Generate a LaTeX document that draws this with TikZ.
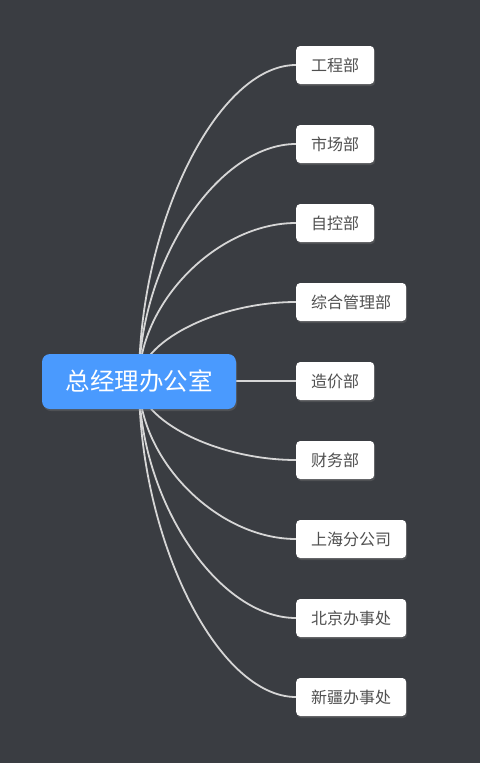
\documentclass[tikz,border=0pt]{standalone}
\usepackage{fontspec}
\setmainfont{Noto Sans CJK SC}
\usetikzlibrary{calc,shadows,backgrounds}
\definecolor{bgc}{HTML}{3A3D42}
\definecolor{rootblue}{HTML}{4A9AFE}
\definecolor{linec}{HTML}{D6D6D6}
\definecolor{txtc}{HTML}{505050}
\pgfdeclarelayer{bottom}
\pgfsetlayers{bottom,background,main}
\begin{document}
\begin{tikzpicture}[x=1pt,y=1pt,
  rootbox/.style={fill=rootblue, rounded corners=8pt, text=white,
    font=\fontsize{24.5}{24.5}\selectfont, minimum width=194pt, minimum height=55pt,
    inner sep=0pt, drop shadow={shadow xshift=1pt,shadow yshift=-2pt,opacity=0.3}},
  childbox/.style={fill=white, rounded corners=4pt, text=txtc,
    font=\fontsize{16}{16}\selectfont, minimum height=38pt,
    inner xsep=15pt, inner ysep=0pt, anchor=west,
    drop shadow={shadow xshift=1pt,shadow yshift=-2pt,opacity=0.3}},
  conn/.style={draw=linec, line width=1.8pt}]
\begin{pgfonlayer}{bottom}
  \fill[bgc] (0,0) rectangle (480,-763);
\end{pgfonlayer}
\useasboundingbox (0,0) rectangle (480,-763);

\node[rootbox] (root) at (139,-381.5) {总经理办公室};

\node[childbox] (c1) at (296,-65)  {工程部};
\node[childbox] (c2) at (296,-144) {市场部};
\node[childbox] (c3) at (296,-223) {自控部};
\node[childbox] (c4) at (296,-302) {综合管理部};
\node[childbox] (c5) at (296,-381) {造价部};
\node[childbox] (c6) at (296,-460) {财务部};
\node[childbox] (c7) at (296,-539) {上海分公司};
\node[childbox] (c8) at (296,-618) {北京办事处};
\node[childbox] (c9) at (296,-697) {新疆办事处};

\begin{pgfonlayer}{background}
\foreach \c in {c1,c2,c3,c4,c5,c6,c7,c8,c9}{
  \draw[conn] (root.center) .. controls ($(root.center)!0.5!(root.center |- \c.west)$)
    and ($(\c.west)!0.5!(root.center |- \c.west)$) .. (\c.west);
}
\end{pgfonlayer}
\end{tikzpicture}
\end{document}
